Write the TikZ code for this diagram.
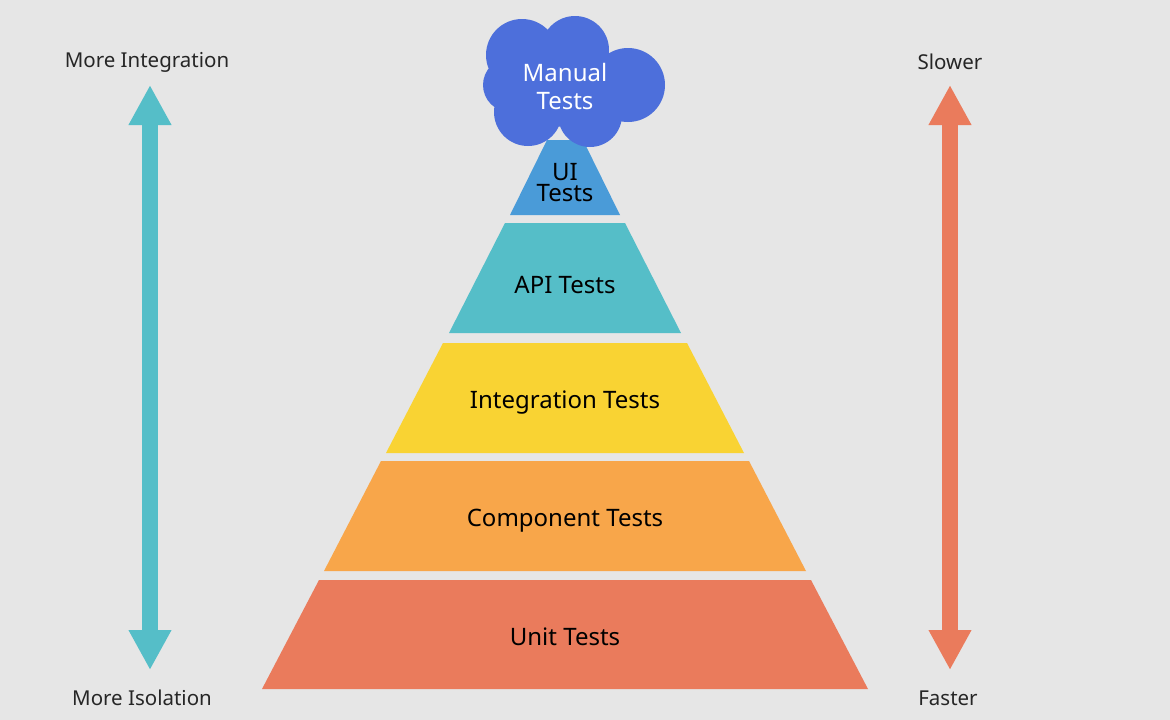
\documentclass[tikz,border=0pt]{standalone}
\usepackage{fontspec}
\setmainfont{Noto Sans}
\usetikzlibrary{arrows.meta}
\definecolor{bg}{HTML}{E6E6E6}
\definecolor{unitc}{HTML}{EA7B5C}
\definecolor{compc}{HTML}{F8A64A}
\definecolor{integc}{HTML}{F9D333}
\definecolor{apic}{HTML}{55BEC8}
\definecolor{uic}{HTML}{4A9BD8}
\definecolor{cloudc}{HTML}{4D6FDB}
\tikzset{
  layertext/.style={font=\fontsize{24}{26}\selectfont, text=black, align=center},
  sidetext/.style={font=\fontsize{20.5}{23}\selectfont, text=black!85},
  bigarrow/.style={line width=16pt, {Triangle[width=40pt,length=40pt]}-{Triangle[width=40pt,length=40pt]}}
}
\begin{document}
\begin{tikzpicture}[x=1pt,y=-1pt]
  \fill[bg] (0,0) rectangle (1170,720);
  \useasboundingbox (0,0) rectangle (1170,720);
  % pyramid layers
  \fill[unitc] (262,689) -- (868,689) -- (811,580) -- (319,580) -- cycle;
  \fill[compc] (324,571) -- (806,571) -- (749,461) -- (381,461) -- cycle;
  \fill[integc] (386,453) -- (744,453) -- (687,343) -- (443,343) -- cycle;
  \fill[apic] (449,333) -- (681,333) -- (625,223) -- (505,223) -- cycle;
  \fill[uic] (510,215) -- (620,215) -- (583,140) -- (547,140) -- cycle;
  % cloud
  \fill[cloudc] (522,55) circle (36) (575,50) circle (34) (628,85) circle (37)
    (590,115) circle (32) (528,112) circle (34) (510,85) circle (27) (565,85) circle (42);
  \node[layertext, text=white] (manual) at (565,86) {Manual\\[2pt]Tests};
  \node[layertext] (ui) at (565,183) {UI\\[-5pt]Tests};
  \node[layertext] (api) at (565,285) {API Tests};
  \node[layertext] (integ) at (565,403) {Integration Tests};
  \node[layertext] (comp) at (565,521) {Component Tests};
  \node[layertext] (unit) at (565,637) {Unit Tests};
  % side arrows
  \node[sidetext] (moreint) at (147,62) {More Integration};
  \node[sidetext] (moreiso) at (142,698) {More Isolation};
  \node[sidetext] (slower) at (950,62) {Slower};
  \node[sidetext] (faster) at (948,698) {Faster};
  \coordinate (ltop) at (150,85);
  \coordinate (lbot) at (150,670);
  \coordinate (rtop) at (950,85);
  \coordinate (rbot) at (950,670);
  \draw[bigarrow, apic] (ltop) -- (lbot);
  \draw[bigarrow, unitc] (rtop) -- (rbot);
\end{tikzpicture}
\end{document}
